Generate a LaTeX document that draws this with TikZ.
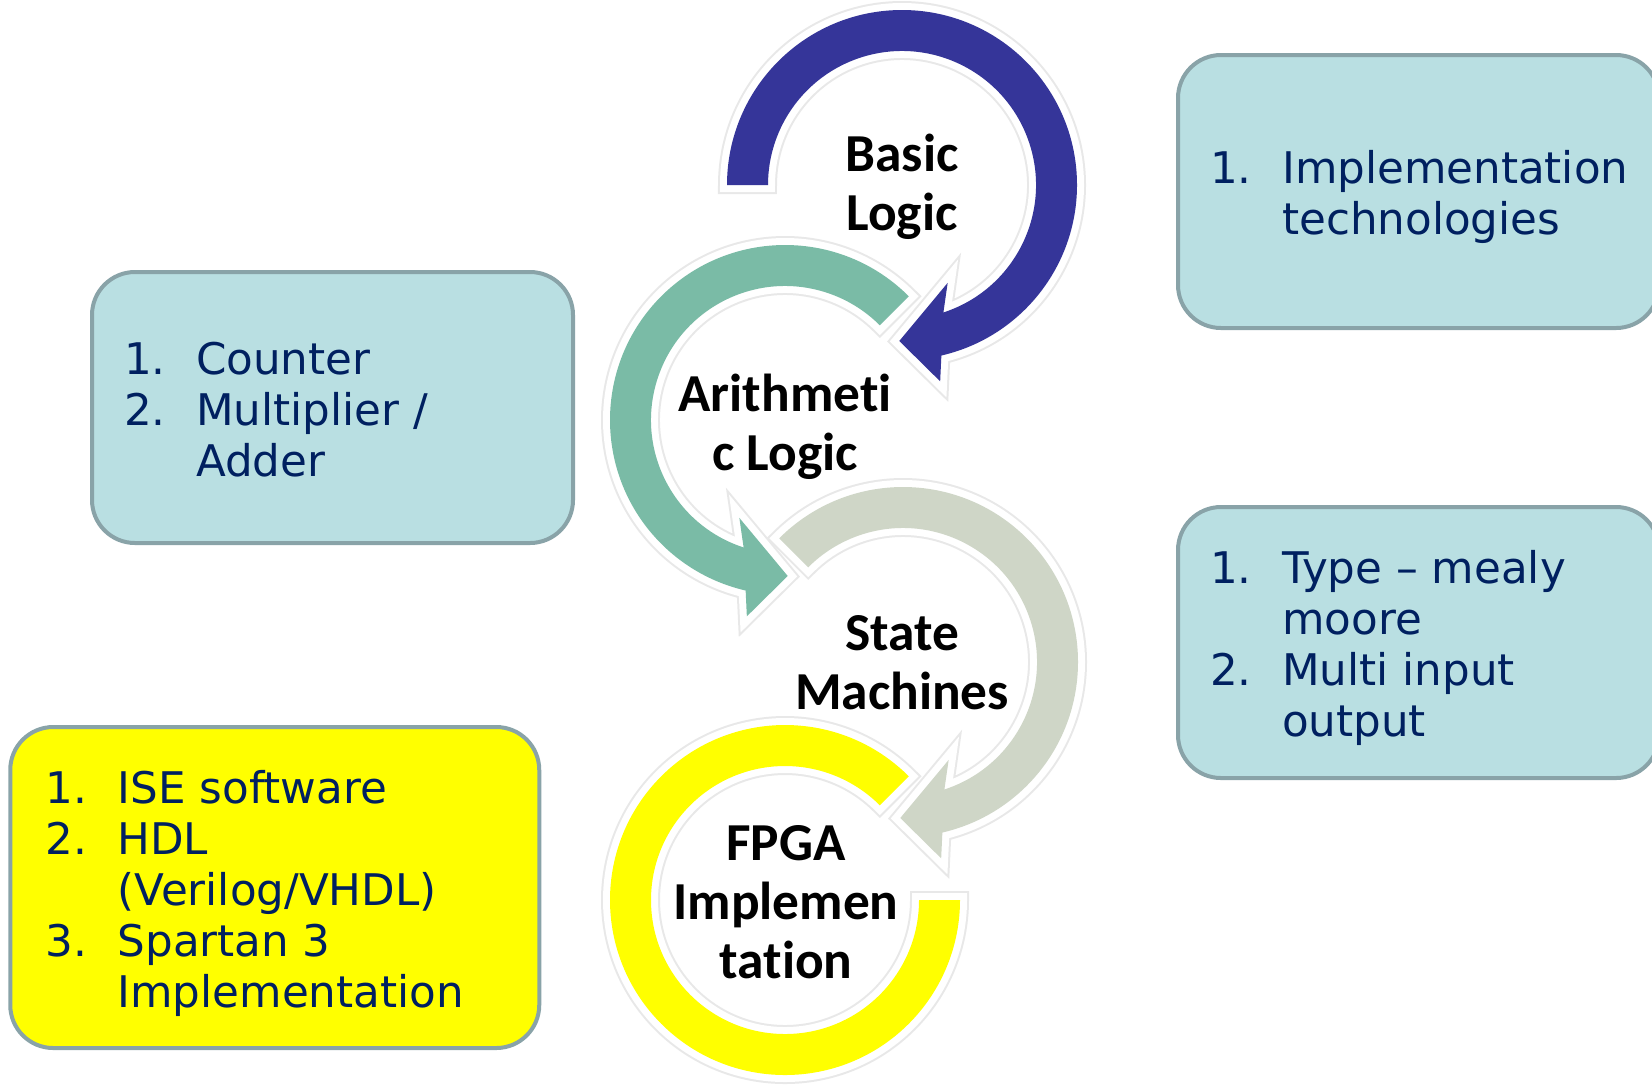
\documentclass[tikz,border=0pt]{standalone}
\usepackage{fontspec}
\usepackage{tikz}
\newfontfamily\listfont{DejaVu Sans}
\newfontfamily\ringfont{Carlito}[Ligatures=NoCommon]
\definecolor{ringblue}{RGB}{53,53,153}
\definecolor{ringgreen}{RGB}{122,187,166}
\definecolor{ringgrey}{RGB}{207,214,199}
\definecolor{ringyellow}{RGB}{255,255,0}
\definecolor{boxfill}{RGB}{185,223,226}
\definecolor{boxline}{RGB}{137,163,168}
\definecolor{listnavy}{RGB}{0,32,96}

\begin{document}
\begin{tikzpicture}[x=0.5pt, y=0.5pt,
	ring/.style={preaction={draw=black!9, line width=9pt}, preaction={draw=white, line width=7pt}},
	ringtext/.style={font=\ringfont\bfseries\fontsize{26.7}{29.5}\selectfont, align=center},
	infobox/.style={rectangle, rounded corners=21.5pt, draw=boxline, line width=2pt, fill=boxfill, minimum width=240.5pt},
	listtext/.style={anchor=west, inner sep=0pt, text=listnavy, font=\listfont\fontsize{21.8}{25.5}\selectfont}]
				\fill[white] (0,0) rectangle (1652,-1084);
				\useasboundingbox (0,0) rectangle (1652,-1084);
				
				\coordinate (c1) at (902,-185);
				\coordinate (c2) at (785,-420);
				\coordinate (c3) at (903,-662);
				\coordinate (c4) at (785,-900);
				
				\node[infobox, minimum height=136.5pt] (box1) at (1418.5,-191.5){};
				\node[infobox, minimum height=135.5pt] (box2) at (332.5,-407.5){};
				\node[infobox, minimum height=135.5pt] (box3) at (1418.5,-642.5){};
				\node[infobox, fill=ringyellow, minimum width=264.5pt, minimum height=160.5pt] (box4) at (274.75,-887.5){};
				
				\node[listtext] (t1) at ([xshift=16.9pt, yshift=-3.7pt]box1.west){\begin{tabular}{@{}p{36pt}@{}l@{}}1. & Implementation\\ & technologies\end{tabular}};
				\node[listtext] (t2) at ([xshift=16.9pt, yshift=-3.7pt]box2.west){\begin{tabular}{@{}p{36pt}@{}l@{}}1. & Counter\\2. & Multiplier /\\ & Adder\end{tabular}};
				\node[listtext] (t3) at ([xshift=16.9pt, yshift=-3.7pt]box3.west){\begin{tabular}{@{}p{36pt}@{}l@{}}1. & Type – mealy\\ & moore\\2. & Multi input\\ & output\end{tabular}};
				\node[listtext] (t4) at ([xshift=18.5pt, yshift=-3.7pt]box4.west){\begin{tabular}{@{}p{36pt}@{}l@{}}1. & ISE software\\2. & HDL\\ & (Verilog/VHDL)\\3. & Spartan 3\\ & Implementation\end{tabular}};
				
				\path[ring, fill=ringyellow, shift={(c4)}] (45:175) arc[start angle=45, end angle=360, radius=175] -- (0:134) arc[start angle=360, end angle=45, radius=134] -- cycle;
				\path[ring, fill=ringgrey, shift={(c3)}] (135:175) arc[start angle=135, end angle=-77, radius=175] -- (-79:200) -- (-91:156) -- (-65:108) -- (-72:134) arc[start angle=-72, end angle=135, radius=134] -- cycle;
				\path[ring, fill=ringgreen, shift={(c2)}] (45:175) arc[start angle=45, end angle=257, radius=175] -- (259:200) -- (271:156) -- (245:108) -- (252:134) arc[start angle=252, end angle=45, radius=134] -- cycle;
				\path[ring, fill=ringblue, shift={(c1)}] (180:175) arc[start angle=180, end angle=-77, radius=175] -- (-79:200) -- (-91:156) -- (-65:108) -- (-72:134) arc[start angle=-72, end angle=180, radius=134] -- cycle;
				
				\node[ringtext] (l1) at (902,-187){Basic\\Logic};
				\node[ringtext] (l2) at (785,-427){Arithmeti\\c Logic};
				\node[ringtext] (l3) at (902,-663){State\\Machines};
				\node[ringtext] (l4) at (786,-902){FPGA\\Implemen\\tation};
				\end{tikzpicture}
\end{document}
